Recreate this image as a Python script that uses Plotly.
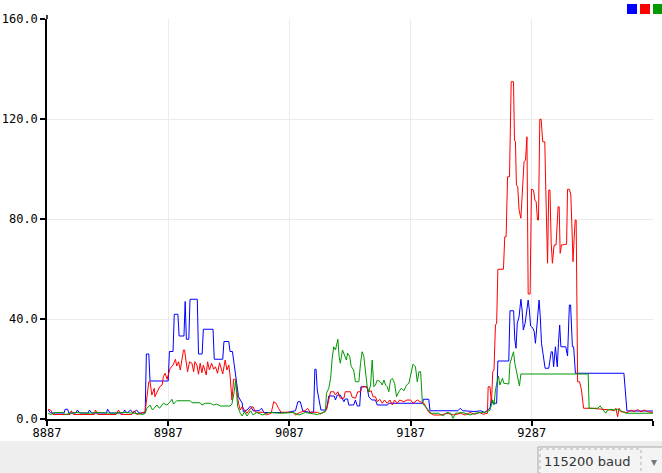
import plotly.graph_objects as go

# ---------------- data (sample index, value) ----------------
blue_x = [8888, 8890, 8901, 8902, 8904, 8905, 8911, 8912, 8914, 8921, 8922, 8924, 8936, 8937, 8939,
          8950, 8951, 8953, 8956, 8958, 8961, 8963, 8968,
          8969, 8971, 8972, 8987, 8988, 8991, 8992, 8995, 8996, 9000, 9001, 9002, 9004, 9005, 9011,
          9012, 9015, 9016, 9024, 9025, 9032, 9033, 9037, 9038, 9040, 9045, 9048, 9049,
          9052, 9055, 9057, 9062, 9064, 9066, 9075, 9085, 9092, 9094, 9096, 9098, 9104, 9107,
          9108, 9109, 9110, 9112, 9113, 9117, 9118, 9119.5, 9124, 9125, 9126.5, 9129, 9132, 9133, 9135,
          9136, 9140, 9141.5, 9143, 9145, 9146, 9151, 9152.5, 9155, 9158, 9159.5, 9168, 9169, 9197,
          9197.5, 9202, 9203, 9220, 9226, 9228, 9230, 9240, 9245, 9248,
          9250.4, 9252.5, 9253.7, 9254.8, 9258, 9259, 9268, 9269, 9272, 9273, 9274, 9275, 9276.5, 9278,
          9279, 9280, 9281.5, 9283, 9284, 9285, 9286, 9288, 9289, 9290, 9292, 9293, 9294, 9295, 9297,
          9298, 9301, 9303, 9304, 9305, 9306.5, 9308, 9309, 9310, 9311, 9315, 9316.5, 9318, 9319,
          9320.5, 9321.5, 9323, 9363, 9365.5, 9387]
blue_y = [3.6, 2.4, 2.4, 3.9, 3.9, 2.4, 2.4, 3.6, 2.4, 2.4, 3.6, 2.4, 2.4, 3.9, 2.4,
          2.4, 3.6, 2.4, 3.6, 2.4, 3.6, 2.4, 2.4,
          26.0, 26.0, 15.2, 15.2, 27.0, 27.0, 41.9, 41.9, 33.2, 33.2, 47.0, 31.9, 31.9, 47.9, 47.9,
          26.0, 26.0, 35.9, 35.9, 23.9, 23.9, 31.0, 31.0, 27.0, 27.0, 8.9, 6.4, 2.9,
          3.6, 5.2, 3.3, 3.3, 4.3, 2.6, 2.6, 2.6, 3.3, 6.9, 6.9, 3.3, 2.6, 2.9,
          19.9, 19.9, 11.6, 4.9, 3.6, 3.6, 4.9, 9.2, 9.2, 7.6, 9.6, 9.6, 6.9, 8.0, 8.0,
          5.6, 5.6, 7.6, 5.2, 5.2, 12.9, 12.9, 8.9, 7.6, 7.6, 5.6, 5.6, 6.3, 6.3,
          7.9, 7.9, 3.3, 3.3, 3.3, 4.3, 3.3, 3.0, 3.3, 2.6,
          3.6, 4.3, 8.3, 6.3, 6.3, 23.2, 23.2, 43.3, 43.3, 31.6, 28.3, 38.3, 40.9, 47.9,
          43.6, 35.6, 38.3, 43.6, 47.6, 43.6, 37.2, 36.3, 34.9, 30.3, 40.9, 47.6, 40.9, 30.3, 23.6,
          20.3, 20.3, 26.9, 26.9, 20.9, 28.9, 20.9, 30.3, 37.6, 28.9, 28.9, 25.2, 45.6, 45.6,
          28.9, 28.9, 18.3, 18.3, 3.2, 3.2]

red_x = [8888, 8890, 8892, 8906, 8907, 8909, 8926, 8927, 8929, 8944, 8946, 8948, 8957, 8959, 8961,
         8965, 8968,
         8971, 8972, 8973.5, 8975.5, 8976, 8979, 8980, 8982, 8983, 8984.5, 8986, 8988.7, 8991, 8993,
         8994, 8995.5, 8997, 8999.6, 9000.5, 9001.6, 9003, 9004.6, 9006.6, 9008, 9009, 9010.7, 9012,
         9013.4, 9014.8, 9016, 9018.4, 9019.5, 9021, 9022.8, 9024.5, 9026, 9027.7, 9029.4, 9030.8,
         9032, 9034, 9035.5, 9037, 9038, 9039.6, 9041, 9042.4, 9043.8, 9045, 9046.5,
         9048, 9050, 9052, 9055, 9057, 9059, 9066, 9068, 9072, 9074, 9076, 9078, 9080, 9090, 9092,
         9096, 9100, 9102, 9104, 9110, 9113, 9117.6,
         9119.5, 9121, 9123.6, 9125, 9127, 9129, 9132, 9133, 9137.4, 9138.8, 9141.5, 9143.4, 9145.7,
         9147, 9150.6, 9152.5, 9154.5, 9156, 9158, 9159.5, 9161.6, 9163.6, 9165.5, 9167.7, 9170,
         9171.9, 9173.8, 9176, 9178, 9181.5, 9184, 9187, 9189, 9192.5, 9195, 9198, 9202, 9206,
         9212, 9217, 9223, 9228, 9232, 9236, 9240, 9244, 9247, 9250.4,
         9251, 9252.5, 9253.7, 9254.8, 9255.8, 9257, 9258, 9259, 9263.6, 9264.7, 9265.8, 9267,
         9268.6, 9270, 9271.9, 9272.7, 9273.5, 9274.3, 9275.4, 9276.5, 9278, 9279, 9280.6, 9281.8,
         9282.6, 9283, 9284, 9285.6, 9286.7, 9288.4, 9289.5, 9290.6, 9291.7, 9292.5, 9293.6, 9294.7,
         9296, 9297.7, 9298.8, 9300, 9301, 9302, 9303, 9304, 9305.4, 9307, 9308.7, 9309.6, 9310.4,
         9311.5, 9315.7, 9316.5, 9318, 9319.2, 9320, 9321, 9322, 9322.8, 9323.6, 9324.8, 9326.4,
         9328, 9329.7, 9335.8, 9352.3, 9355, 9356.4, 9357.8, 9359, 9360.6, 9366, 9368.8, 9371.5,
         9374.3, 9377, 9379.8, 9382.6, 9386.7]
red_y = [3.9, 3.6, 1.8, 1.8, 3.3, 1.8, 1.8, 3.6, 1.8, 1.8, 3.6, 1.8, 1.8, 3.3, 1.8,
         2.6, 2.9,
         14.9, 14.9, 9.6, 12.3, 8.9, 11.6, 12.9, 13.6, 16.9, 18.3, 15.9, 20.3, 21.6, 23.9,
         21.2, 22.9, 19.6, 27.6, 27.6, 23.6, 18.9, 22.9, 22.3, 18.9, 22.9, 21.6, 17.9,
         22.3, 18.5, 21.6, 17.6, 22.9, 19.6, 22.3, 19.9, 20.9, 18.3, 22.5, 20.3,
         18.0, 23.6, 19.6, 21.6, 17.6, 7.6, 15.9, 15.9, 9.6, 6.3, 3.6,
         4.9, 3.6, 2.3, 4.3, 4.9, 2.7, 2.7, 1.6, 2.3, 6.9, 6.3, 4.3, 2.7, 2.7, 1.6,
         2.7, 3.3, 4.3, 2.7, 2.7, 2.0, 3.6,
         7.6, 10.9, 10.9, 9.6, 10.9, 8.3, 8.3, 10.9, 10.9, 8.7, 8.3, 10.9, 10.9,
         12.9, 12.9, 10.9, 11.3, 8.9, 8.9, 6.9, 7.9, 6.3, 7.6, 6.3, 7.6,
         5.6, 7.6, 6.3, 7.6, 6.9, 7.6, 7.6, 6.3, 7.6, 6.9, 6.3, 2.7, 1.6,
         1.6, 2.3, 1.6, 2.3, 1.6, 2.6, 1.9, 2.6, 1.9, 2.3,
         12.9, 12.9, 6.3, 18.9, 19.6, 37.6, 38.3, 59.9, 59.9, 72.9, 72.9, 96.9,
         96.9, 134.9, 134.9, 111.6, 110.9, 93.6, 92.9, 83.6, 80.3, 88.9, 102.9, 103.6,
         112.9, 112.9, 50.0, 50.0, 91.9, 91.6, 87.6, 86.9, 79.6, 79.6, 119.9, 119.9,
         110.9, 110.9, 86.3, 62.3, 91.6, 91.6, 70.3, 62.3, 69.6, 69.6, 84.9, 84.9, 66.3,
         69.6, 69.9, 91.9, 91.9, 89.6, 78.3, 62.9, 72.9, 79.6, 79.6, 14.9, 14.9,
         11.6, 4.3, 4.3, 3.6, 3.3, 4.3, 0.9, 4.3, 2.9, 2.6, 3.6, 2.9,
         3.8, 2.9, 3.6, 2.9, 2.6]

green_x = [8888, 8890, 8894, 8900, 8902, 8910, 8920, 8930, 8940, 8950, 8960, 8966, 8968,
           8969.4, 8972, 8974, 8977.7, 8979.8, 8983, 8986, 8988.7, 8990, 8991.4, 8994, 9005, 9006.6,
           9013.4, 9014.8, 9017.6, 9021.7, 9024.5, 9027, 9030, 9038, 9039.6, 9041.5, 9042.6, 9044.3,
           9046.5, 9048, 9050, 9052, 9055, 9057, 9060, 9065, 9070, 9080, 9090, 9095, 9100, 9105,
           9110, 9116.7,
           9117.6, 9119.5, 9121, 9122.3, 9123.6, 9125, 9127, 9128, 9129, 9130.8, 9132.5, 9134, 9135,
           9136.8, 9138, 9140, 9141.5, 9144.3, 9145.7, 9147, 9148.4, 9149.8, 9151.2, 9152.5, 9154,
           9155.3, 9156.7, 9158, 9159.5, 9162, 9163.6, 9165, 9166.3, 9167.7, 9169, 9170.5, 9171.9,
           9173.8, 9175.4, 9177.3, 9179.3, 9181.5, 9183.7, 9185.6, 9187.6, 9189, 9191, 9192.5,
           9193.9, 9195.3, 9196.7, 9199.4, 9202, 9204, 9210, 9214, 9217, 9220, 9222, 9224, 9230,
           9236, 9240, 9245, 9250.4,
           9252.5, 9253.7, 9254.8, 9255.8, 9257, 9258.4, 9259.5, 9260.6, 9261.7, 9262.8, 9263.9,
           9268, 9269, 9270.7, 9271.9, 9273, 9274.6, 9276, 9276.8, 9278, 9333.5, 9334.3, 9341.3,
           9343.4, 9345.4, 9348, 9349.6, 9352.3, 9355, 9357.8, 9360.6, 9364.7, 9387]
green_y = [2.3, 1.8, 2.6, 2.6, 1.8, 2.6, 2.3, 2.6, 2.3, 2.6, 2.3, 1.8, 2.3,
           4.3, 5.6, 3.6, 5.6, 4.3, 6.3, 5.6, 6.9, 7.9, 6.0, 7.3, 7.3, 6.5,
           6.5, 5.6, 6.3, 6.3, 5.6, 6.0, 5.2, 5.2, 6.0, 11.0, 15.6, 5.0,
           2.3, 1.2, 2.9, 1.2, 3.3, 1.6, 2.6, 1.6, 2.6, 2.3, 2.6, 1.6, 2.6, 2.3,
           1.8, 2.9,
           10.3, 12.3, 16.3, 24.3, 28.9, 27.6, 31.9, 25.0, 22.3, 27.6, 25.0, 23.6, 26.3,
           25.0, 21.0, 19.6, 14.9, 14.9, 22.3, 26.9, 25.0, 19.6, 12.9, 10.9, 13.6,
           23.6, 12.9, 13.6, 15.6, 14.9, 13.6, 15.6, 13.6, 12.9, 10.9, 15.6, 16.3,
           14.3, 8.9, 10.9, 12.3, 11.3, 13.6, 14.3, 18.3, 21.9, 20.9, 14.9,
           18.9, 18.9, 6.3, 4.9, 3.6, 2.3, 2.3, 1.3, 2.6, 2.3, 0.3, 2.3, 2.6,
           1.6, 2.3, 2.6, 2.9,
           3.6, 6.3, 7.6, 5.6, 11.6, 14.9, 17.2, 13.6, 14.9, 16.3, 14.3,
           14.0, 22.3, 24.9, 26.9, 22.3, 18.3, 15.6, 13.2, 18.0, 18.0, 4.3, 4.3,
           5.2, 3.9, 2.3, 3.6, 3.9, 3.6, 3.9, 3.3, 2.3, 2.3]

series_names = ["blue", "red", "green"]
series_colors = ["#0000FF", "#FF0000", "#009900"]

x_ticks = [8887, 8987, 9087, 9187, 9287, 9387]
x_tick_labels = ["8887", "8987", "9087", "9187", "9287", "9387"]
y_ticks = [0, 40, 80, 120, 160]
y_tick_labels = ["0.0", "40.0", "80.0", "120.0", "160.0"]
baud_label = "115200 baud"

# ---------------- figure ----------------
fig = go.Figure()
for xs, ys, name, col in zip([blue_x, red_x, green_x], [blue_y, red_y, green_y],
                             series_names, series_colors):
    fig.add_trace(go.Scatter(x=xs, y=ys, mode="lines", name=name,
                             line=dict(color=col, width=1), hoverinfo="skip"))

W, H = 662, 473
ML, MR, MT, MB = 47, 9, 19, 54
pw, ph = W - ML - MR, H - MT - MB


def px2paper_x(px):
    return (px - ML) / pw


def py2paper_y(py):
    return (H - MB - py) / ph


shapes = []
# bottom grey strip
shapes.append(dict(type="rect", xref="paper", yref="paper", layer="below",
                   x0=px2paper_x(-2), x1=px2paper_x(W + 2), y0=py2paper_y(441), y1=py2paper_y(H + 2),
                   fillcolor="#EEEEEE", line=dict(width=0)))
# baud box
shapes.append(dict(type="rect", xref="paper", yref="paper",
                   x0=px2paper_x(538), x1=px2paper_x(W + 2), y0=py2paper_y(447), y1=py2paper_y(H + 2),
                   fillcolor="#F4F4F4", line=dict(color="#A8A8A8", width=1)))
shapes.append(dict(type="rect", xref="paper", yref="paper",
                   x0=px2paper_x(540), x1=px2paper_x(641), y0=py2paper_y(449), y1=py2paper_y(H + 2),
                   fillcolor="rgba(0,0,0,0)", line=dict(color="#B0B0B0", width=1, dash="dot")))
# y-axis line extension above the top tick
shapes.append(dict(type="line", xref="paper", yref="paper",
                   x0=0, x1=0, y0=1, y1=py2paper_y(15),
                   line=dict(color="black", width=1.5)))
# legend squares
for i, col in enumerate(series_colors):
    x0 = 627 + 13 * i
    shapes.append(dict(type="rect", xref="paper", yref="paper",
                       x0=px2paper_x(x0), x1=px2paper_x(x0 + 10),
                       y0=py2paper_y(14), y1=py2paper_y(4),
                       fillcolor=col, line=dict(width=0)))

annotations = [
    dict(xref="paper", yref="paper", x=px2paper_x(542), y=py2paper_y(461),
         xanchor="left", yanchor="middle", showarrow=False, text=baud_label,
         font=dict(family="DejaVu Sans", size=13, color="#333333")),
    dict(xref="paper", yref="paper", x=px2paper_x(654), y=py2paper_y(462),
         xanchor="center", yanchor="middle", showarrow=False, text="▾",
         font=dict(family="DejaVu Sans", size=12, color="#777777")),
]

mono = dict(family="DejaVu Sans Mono", size=12, color="#000000")
fig.update_layout(
    width=W, height=H,
    margin=dict(l=ML, r=MR, t=MT, b=MB, pad=0, autoexpand=False),
    paper_bgcolor="white", plot_bgcolor="white",
    showlegend=False,
    shapes=shapes, annotations=annotations,
    xaxis=dict(range=[8887, 9387], tickmode="array", tickvals=x_ticks, ticktext=x_tick_labels,
               showgrid=True, gridcolor="#EBEBEB", gridwidth=1, zeroline=False,
               showline=True, linecolor="black", linewidth=1.5, automargin=False,
               ticks="outside", ticklen=5, tickcolor="black", tickwidth=1.5,
               ticklabelstandoff=-3,
               tickfont=mono, fixedrange=True),
    yaxis=dict(range=[0, 160], tickmode="array", tickvals=y_ticks, ticktext=y_tick_labels,
               showgrid=True, gridcolor="#EBEBEB", gridwidth=1, zeroline=False,
               showline=True, linecolor="black", linewidth=1.5, automargin=False,
               ticks="outside", ticklen=5, tickcolor="black", tickwidth=1.5,
               tickfont=mono, fixedrange=True),
)

fig.write_html("out.html", config={"displayModeBar": False},
               post_script="document.body.style.margin='0';document.body.style.overflow='hidden';")
